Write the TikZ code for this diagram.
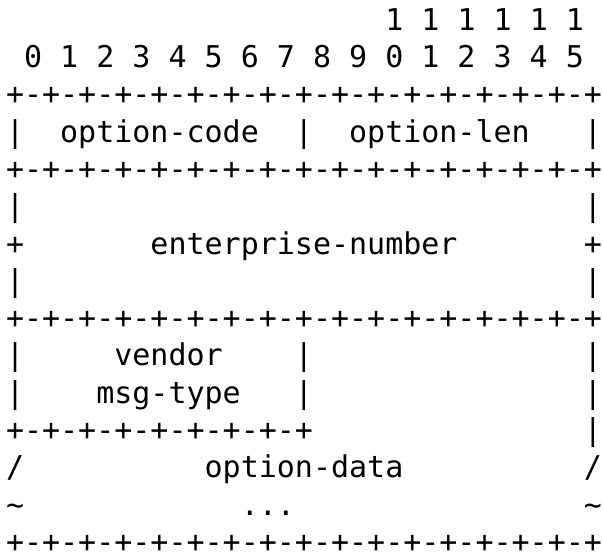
\documentclass[tikz,border=0pt]{standalone}
\usepackage{fontspec}
\setmonofont{DejaVu Sans Mono}
% \sk{n}: n blank character cells of the current monospace font
\newcommand\sk[1]{\hspace*{#1\fontdimen2\font}}
\begin{document}
\begin{tikzpicture}[x=1pt,y=1pt,
  txtrow/.style={anchor=base west, inner sep=0pt, outer sep=0pt,
    font=\ttfamily\fontsize{30}{30}\selectfont, text=black}]
\fill[white] (0,0) rectangle (603,-557);
\useasboundingbox (0,0) rectangle (603,-557);
% baseline of text row k (k = 1..15): 67.5 + (k-2)*37.3 below the top edge
\def\pitch{37.3}
\def\rowy#1{-(67.5+(#1-2)*\pitch)}
\node[txtrow] (bitsHi)   at (6,{\rowy{1}})  {\sk{21}1 1 1 1 1 1};
\node[txtrow] (bitsLo)   at (6,{\rowy{2}})  {\sk{1}0 1 2 3 4 5 6 7 8 9 0 1 2 3 4 5};
\node[txtrow] (ruleA)    at (6,{\rowy{3}})  {+-+-+-+-+-+-+-+-+-+-+-+-+-+-+-+-+};
\node[txtrow] (codeLen)  at (6,{\rowy{4}})  {|\sk{2}option-code\sk{2}|\sk{2}option-len\sk{3}|};
\node[txtrow] (entTop)   at (6,{\rowy{5}})  {+-+-+-+-+-+-+-+-+-+-+-+-+-+-+-+-+};
\node[txtrow] (entA)     at (6,{\rowy{6}})  {|\sk{31}|};
\node[txtrow] (entName)  at (6,{\rowy{7}})  {+\sk{7}enterprise-number\sk{7}+};
\node[txtrow] (entB)     at (6,{\rowy{8}})  {|\sk{31}|};
\node[txtrow] (entBot)   at (6,{\rowy{9}})  {+-+-+-+-+-+-+-+-+-+-+-+-+-+-+-+-+};
\node[txtrow] (vendorA)  at (6,{\rowy{10}}) {|\sk{5}vendor\sk{4}|\sk{15}|};
\node[txtrow] (vendorB)  at (6,{\rowy{11}}) {|\sk{4}msg-type\sk{3}|\sk{15}|};
\node[txtrow] (vendorC)  at (6,{\rowy{12}}) {+-+-+-+-+-+-+-+-+\sk{15}|};
\node[txtrow] (dataName) at (6,{\rowy{13}}) {/\sk{10}option-data\sk{10}/};
\node[txtrow] (dataMore) at (6,{\rowy{14}}) {\textasciitilde\sk{12}...\sk{16}\textasciitilde};
\node[txtrow] (ruleZ)    at (6,{\rowy{15}}) {+-+-+-+-+-+-+-+-+-+-+-+-+-+-+-+-+};
\end{tikzpicture}
\end{document}
